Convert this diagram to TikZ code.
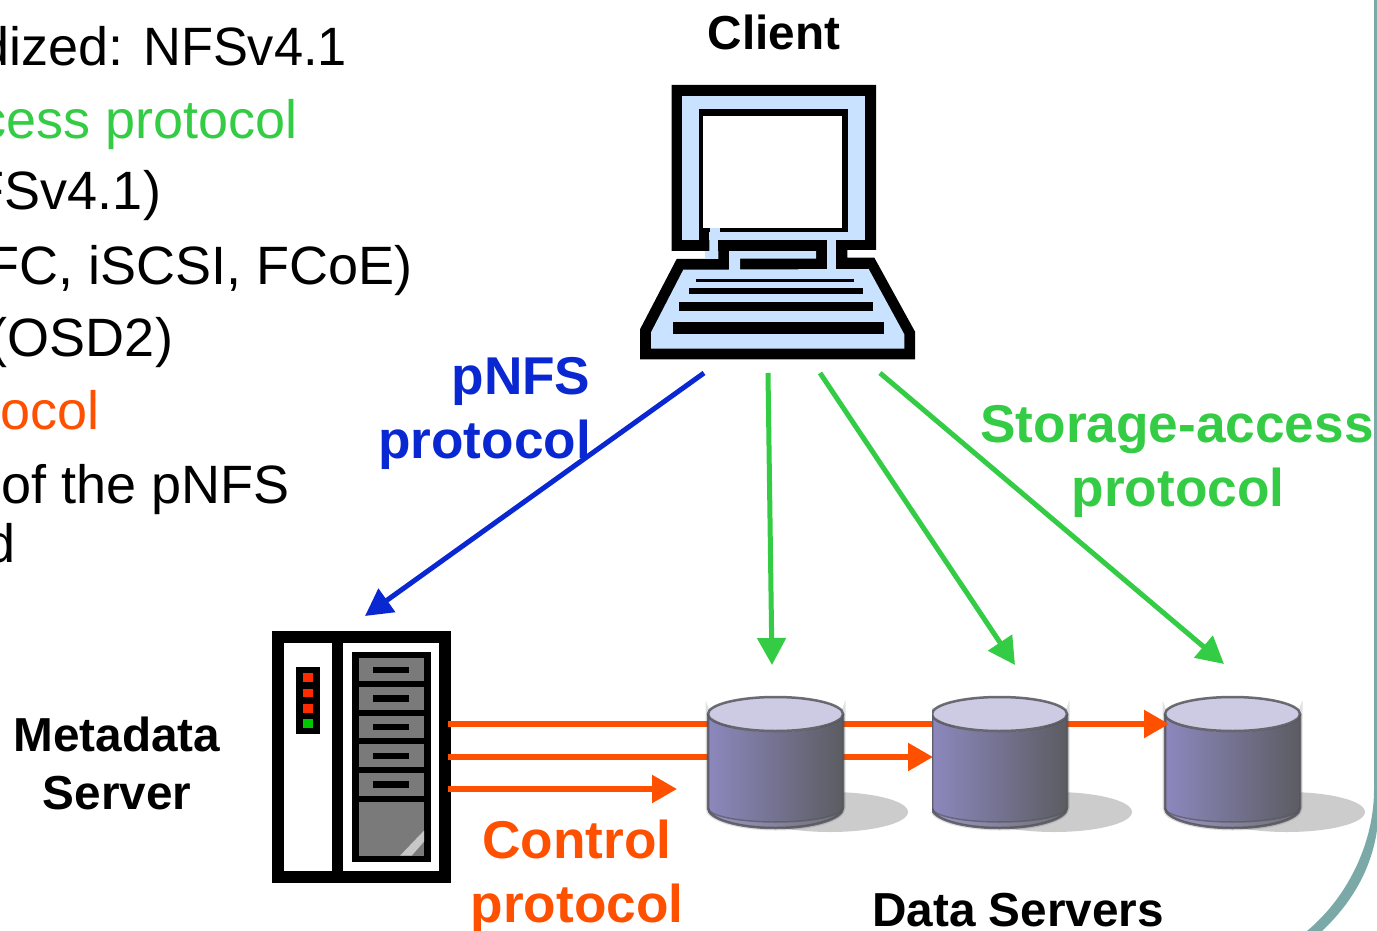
\documentclass[tikz,border=0pt]{standalone}
\usepackage{fontspec}
\setmainfont{Liberation Sans}
\usetikzlibrary{arrows.meta}
\definecolor{bluec}{HTML}{0A28D2}
\definecolor{greenc}{HTML}{33CC44}
\definecolor{orangec}{HTML}{FF5000}
\definecolor{tealc}{HTML}{7BA9A8}
\definecolor{lapblue}{HTML}{C8E2FF}
\definecolor{drawer}{HTML}{7A7A7A}
\definecolor{ledred}{HTML}{FF2A00}
\definecolor{ledgreen}{HTML}{00C800}
\definecolor{cylL}{HTML}{8C88BE}
\definecolor{cylR}{HTML}{5C5C62}
\definecolor{cylTop}{HTML}{CDCBE3}
\definecolor{cylEdge}{HTML}{55555C}
\tikzset{
  body/.style={inner sep=0pt,outer sep=0pt,font=\fontsize{54}{60}\selectfont,anchor=base east},
  lab/.style={inner sep=0pt,outer sep=0pt,font=\fontsize{53.2}{60}\selectfont\bfseries,anchor=base},
  sublab/.style={inner sep=0pt,outer sep=0pt,font=\fontsize{47.7}{60}\selectfont\bfseries,anchor=base},
  flow/.style={line width=5pt,-{Triangle[length=27pt,width=28pt]}},
  ctrl/.style={line width=5.5pt,draw=orangec,-{Triangle[length=25pt,width=27pt]},orangec},
  blk/.style={fill=black},
  lap/.style={fill=lapblue},
}
\newcommand{\drumat}[1]{%
  \begin{scope}[shift={(#1,0)}]
    \begin{scope}
      \clip (0,690) rectangle (210,832);
      \fill[black!20] (122,812) ellipse (78 and 20);
    \end{scope}
    \draw[cylEdge,line width=5pt,opacity=.18] (0,714) -- (0,808) arc[start angle=180,end angle=360,x radius=67.5,y radius=-20] -- (135,714) arc[start angle=0,end angle=180,x radius=67.5,y radius=18] -- cycle;
    \path[left color=cylL,right color=cylR] (0,714) -- (0,808) arc[start angle=180,end angle=360,x radius=67.5,y radius=-20] -- (135,714) arc[start angle=0,end angle=180,x radius=67.5,y radius=18] -- cycle;
    \path[fill=white,opacity=.12] (0,808) arc[start angle=180,end angle=360,x radius=67.5,y radius=-20] arc[start angle=0,end angle=180,x radius=67.5,y radius=14] -- cycle;
    \draw[cylEdge,line width=1.5pt,opacity=.65] (0,808) arc[start angle=180,end angle=0,x radius=67.5,y radius=14];
    \draw[cylEdge,line width=2.5pt,opacity=.85] (0,714) -- (0,808) arc[start angle=180,end angle=360,x radius=67.5,y radius=-20] -- (135,714);
    \draw[cylEdge,line width=2.5pt,fill=cylTop,draw opacity=.85] (67.5,714) ellipse (67.5 and 17);
  \end{scope}
}
\begin{document}
\begin{tikzpicture}[x=1pt,y=-1pt]
\useasboundingbox (0,0) rectangle (1377,931);
\clip (0,0) rectangle (1377,931);
\fill[white] (0,0) rectangle (1377,931);
% slide border
\fill[tealc] (1374,0) -- (1374,790) .. controls (1374,840) and (1350,895) .. (1307,931) -- (1322,931) .. controls (1355,900) and (1372,865) .. (1377,830) -- (1377,0) -- cycle;
% left text
\node[body] (t1) at (347,66) {dized: \scalebox{0.97}[1]{NFSv4.1}};
\node[body,text=greenc] (t2) at (298,139) {cess protocol};
\node[body] (t3) at (161,210) {FSv4.1)};
\node[body] (t4) at (413,284) {FC, iSCSI, FCoE)};
\node[body] (t5) at (173,356) {(OSD2)};
\node[body,text=orangec] (t6) at (100,429) {tocol};
\node[body] (t7) at (290,503) {of the pNFS};
\node[body] (t8) at (16,562) {d};
% laptop
\begin{scope}[shift={(630,70)},x=.33333pt,y=-.33333pt]
  \fill[blk] (125,45) -- (738,45) -- (738,540) -- (652,540) -- (652,563) -- (733,563) -- (855,785) -- (855,868) -- (30,868) -- (30,778) -- (140,567) -- (225,567) -- (225,543) -- (125,543) -- cycle;
  \fill[lap] (157,78) rectangle (706,510);
  \fill[lap] (238,505) -- (265,505) -- (265,567) -- (225,567) -- (225,543) -- (238,543) -- cycle;
  \fill[lap] (590,505) rectangle (618,600);
  \fill[lap] (297,543) -- (558,543) -- (558,566) -- (330,566) -- (330,600) -- (297,600) -- cycle;
  \fill[blk] (206,117) rectangle (653,487);
  \fill[blk] (206,470) rectangle (238,515);
  \fill[blk] (157,510) rectangle (238,543);
  \fill[blk] (265,510) rectangle (590,543);
  \fill[blk] (618,510) rectangle (738,540);
  \fill[white] (219,138) rectangle (636,474);
  \fill[lap] (240,474) rectangle (271,487);
  \fill[lap] (160,599) -- (716,597) -- (823,793) -- (823,836) -- (63,836) -- (63,787) -- cycle;
  \fill[blk] (198,627) rectangle (672,636);
  \fill[blk] (177,654) rectangle (699,672);
  \fill[blk] (147,696) rectangle (729,723);
  \fill[blk] (129,756) rectangle (762,792);
\end{scope}
% server
\begin{scope}[shift={(260,620)},x=.33333pt,y=-.33333pt]
  \fill[blk] (36,34) rectangle (573,788);
  \fill[white] (71,70) rectangle (215,752);
  \fill[white] (250,70) rectangle (537,752);
  \fill[blk] (276,95) rectangle (512,727);
  \foreach \a/\b/\s in {115/184/141,202/270/226,288/355/312,373/441/398,459/527/484}{
    \fill[drawer] (296,\a) rectangle (492,\b);
    \fill[blk] (340,\s) rectangle (448,\s+19);
  }
  \fill[drawer] (296,545) rectangle (492,707);
  \fill[black!22] (420,707) -- (492,632) -- (492,665) -- (455,707) -- cycle;
  \fill[blk] (108,140) rectangle (180,343);
  \fill[ledred] (129,160) rectangle (158,186);
  \fill[ledred] (129,206) rectangle (158,232);
  \fill[ledred] (129,252) rectangle (158,278);
  \fill[ledgreen] (129,298) rectangle (158,324);
\end{scope}
% third drum, then control arrows, then the two drums they pass behind
\drumat{1165}
\coordinate (srvA) at (448,724);
\coordinate (srvB) at (448,757);
\coordinate (srvC) at (448,789);
\coordinate (dsA) at (1169,724);
\coordinate (dsB) at (933,757);
\coordinate (ctlEnd) at (677,789);
\draw[ctrl] (srvA) -- (dsA);
\draw[ctrl] (srvC) -- (ctlEnd);
\draw[ctrl] (srvB) -- (dsB);
\drumat{708}
\begin{scope}
  \clip (932,690) rectangle (1142,832);
  \drumat{932}
\end{scope}
% client connectors
\coordinate (cliA) at (704,373);
\coordinate (cliB) at (768,373);
\coordinate (cliC) at (820,373);
\coordinate (cliD) at (880,373);
\coordinate (srvTop) at (365,616);
\coordinate (d1) at (772,665);
\coordinate (d2) at (1015,665);
\coordinate (d3) at (1224,664);
\draw[flow,draw=bluec,bluec] (cliA) -- (srvTop);
\draw[flow,draw=greenc,greenc] (cliB) -- (d1);
\draw[flow,draw=greenc,greenc] (cliC) -- (d2);
\draw[flow,draw=greenc,greenc] (cliD) -- (d3);
% labels
\node[sublab] (client) at (774,50) {Client};
\node[lab,text=bluec] (pnfs) at (521,394) {pNFS};
\node[lab,text=bluec] (pproto) at (484.5,458) {protocol};
\node[lab,text=greenc] (sa) at (1177,442) {Storage-access};
\node[lab,text=greenc] (sproto) at (1178,506) {protocol};
\node[sublab] (meta) at (117,751) {Metadata};
\node[sublab] (serv) at (117,809) {Server};
\node[lab,text=orangec] (ctl) at (577,858) {Control};
\node[lab,text=orangec] (cproto) at (577,922) {protocol};
\node[sublab] (ds) at (1018,926) {Data Servers};
\end{tikzpicture}
\end{document}
